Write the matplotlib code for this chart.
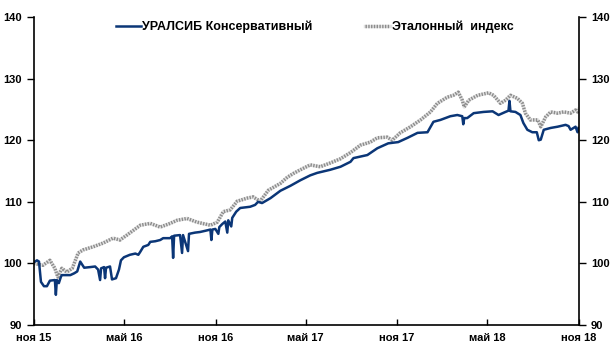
import numpy as np
import pandas as pd
import matplotlib
matplotlib.use("Agg")
import matplotlib.pyplot as plt
from matplotlib.lines import Line2D

plt.rcParams['font.family'] = ['Liberation Sans', 'DejaVu Sans']

start = pd.Timestamp('2015-11-01')

# УРАЛСИБ Консервативный: days since 2015-11-01, value
fund_days = [0, 6, 10, 14, 20, 26, 32, 42, 44, 46, 50, 54, 56, 73, 81, 87, 93, 101,
             113, 123, 129, 133, 135, 141, 143, 145, 153, 157, 165, 171, 175, 181,
             193, 204, 210, 214, 220, 230, 234, 244, 254, 260, 274, 278, 280, 282,
             294, 298, 300, 310, 312, 324, 334, 345, 355, 357, 359, 365, 371, 373,
             379, 385, 389, 391, 397, 399, 407, 415, 425, 435, 445, 451, 459, 476,
             496, 516, 536, 556, 570, 596, 617, 637, 643, 671, 691, 713, 733, 752,
             772, 792, 804, 818, 838, 852, 862, 864, 866, 872, 885, 905, 923, 935,
             949, 955, 957, 959, 969, 979, 985, 993, 1003, 1012, 1016, 1020, 1026,
             1040, 1054, 1070, 1076, 1080, 1090, 1094, 1096]
fund_vals = [100.2, 100.5, 100.3, 97.0, 96.3, 96.3, 97.2, 97.3, 94.9, 97.3, 96.8, 97.8,
             98.1, 98.1, 98.4, 98.7, 100.3, 99.3, 99.4, 99.5, 99.0, 97.3, 99.2, 99.4,
             97.6, 99.3, 99.5, 97.4, 97.6, 99.0, 100.5, 101.0, 101.4, 101.6, 101.4,
             101.9, 102.7, 103.0, 103.5, 103.6, 103.8, 104.1, 104.1, 104.4, 100.9,
             104.5, 104.6, 101.7, 104.6, 102.0, 104.8, 105.0, 105.1, 105.3, 105.5,
             103.8, 105.5, 105.6, 104.8, 105.9, 106.4, 106.8, 105.0, 107.0, 106.0,
             107.4, 108.4, 109.0, 109.1, 109.2, 109.5, 110.0, 109.8, 110.6, 111.8,
             112.6, 113.5, 114.3, 114.7, 115.2, 115.7, 116.5, 117.1, 117.6, 118.7,
             119.5, 119.7, 120.4, 121.2, 121.3, 123.0, 123.3, 123.9, 124.1, 123.9,
             122.6, 123.6, 123.6, 124.4, 124.6, 124.7, 124.1, 124.6, 124.8, 126.4,
             124.7, 124.6, 124.1, 122.8, 121.7, 121.3, 121.3, 120.0, 120.1, 121.7,
             122.0, 122.2, 122.5, 122.3, 121.7, 122.2, 121.3, 122.0]

# Эталонный индекс
index_days = [0, 18, 32, 42, 48, 56, 66, 77, 89, 99, 119, 139, 159, 173, 187, 214,
              234, 254, 274, 288, 308, 328, 355, 369, 381, 395, 409, 429, 441, 455,
              472, 496, 510, 522, 536, 556, 576, 596, 617, 637, 657, 677, 691, 711,
              721, 737, 758, 778, 798, 812, 832, 844, 854, 862, 866, 875, 893, 915,
              925, 939, 949, 959, 973, 983, 989, 999, 1014, 1020, 1030, 1040, 1054,
              1066, 1080, 1090, 1094, 1096]
index_vals = [100.0, 99.7, 100.5, 99.2, 97.8, 99.2, 98.6, 99.2, 101.7, 102.2, 102.7,
              103.3, 104.1, 103.8, 104.6, 106.2, 106.5, 105.9, 106.5, 107.0, 107.3,
              106.7, 106.2, 106.7, 108.4, 108.7, 110.1, 110.6, 110.8, 110.1, 111.9,
              113.0, 114.0, 114.6, 115.2, 116.0, 115.7, 116.3, 117.0, 118.0, 119.2,
              119.7, 120.4, 120.5, 120.0, 121.2, 122.2, 123.3, 124.6, 126.0, 127.0,
              127.3, 127.8, 126.5, 125.4, 126.5, 127.3, 127.7, 127.3, 126.0, 126.5,
              127.3, 126.8, 126.0, 124.4, 123.3, 123.3, 122.2, 123.8, 124.6, 124.4,
              124.6, 124.4, 124.9, 124.6, 125.0]

tick_dates = ['2015-11-01', '2016-05-01', '2016-11-01', '2017-05-01',
              '2017-11-01', '2018-05-01', '2018-11-01']
tick_labels = ['ноя 15', 'май 16', 'ноя 16', 'май 17', 'ноя 17', 'май 18', 'ноя 18']
y_ticks = [90, 100, 110, 120, 130, 140]

fund_x = start + pd.to_timedelta(fund_days, unit='D')
index_x = start + pd.to_timedelta(index_days, unit='D')

navy = '#0b3677'
idx_light = dict(color='#e2e2e2', lw=2.5)
idx_dots = dict(color='#8c8c8c', lw=2.5, linestyle=(0, (0.4, 0.4)))

fig = plt.figure(figsize=(6.15, 3.56), dpi=100)
ax = fig.add_axes([0.0553, 0.0871, 0.8862, 0.8649])

# index line: light base + fine dotted overlay, gives the hatched look
ax.plot(index_x, index_vals, **idx_light)
ax.plot(index_x, index_vals, **idx_dots)
ax.plot(fund_x, fund_vals, color=navy, lw=1.8)

ax.set_xlim(pd.Timestamp('2015-11-01'), pd.Timestamp('2018-11-02'))
ax.set_ylim(90, 140)
ax.set_yticks(y_ticks)
ax.set_xticks(pd.to_datetime(tick_dates))
ax.set_xticklabels(tick_labels)
ax.spines['top'].set_visible(False)
for sp in ['left', 'right', 'bottom']:
    ax.spines[sp].set_linewidth(1.2)
ax.tick_params(axis='x', direction='in', length=4, width=1, pad=6, labelsize=8)
ax.tick_params(axis='y', direction='out', length=5, width=1, labelsize=8,
               labelright=True, right=True)
for lab in ax.get_xticklabels():
    lab.set_fontweight('bold')
for t in ax.yaxis.get_major_ticks():
    t.label1.set_fontweight('bold')
    t.label2.set_fontweight('bold')

h1 = Line2D([], [], color=navy, lw=1.8)
h2 = (Line2D([], [], **idx_light), Line2D([], [], **idx_dots))
ax.legend([h1, h2], ['УРАЛСИБ Консервативный', 'Эталонный  индекс'],
          loc='upper center', bbox_to_anchor=(0.515, 1.025), ncol=2, frameon=False,
          prop={'weight': 'bold', 'size': 9}, handlelength=2.0, handletextpad=0.1,
          columnspacing=4.2)

fig.savefig('out.png', dpi=100)
